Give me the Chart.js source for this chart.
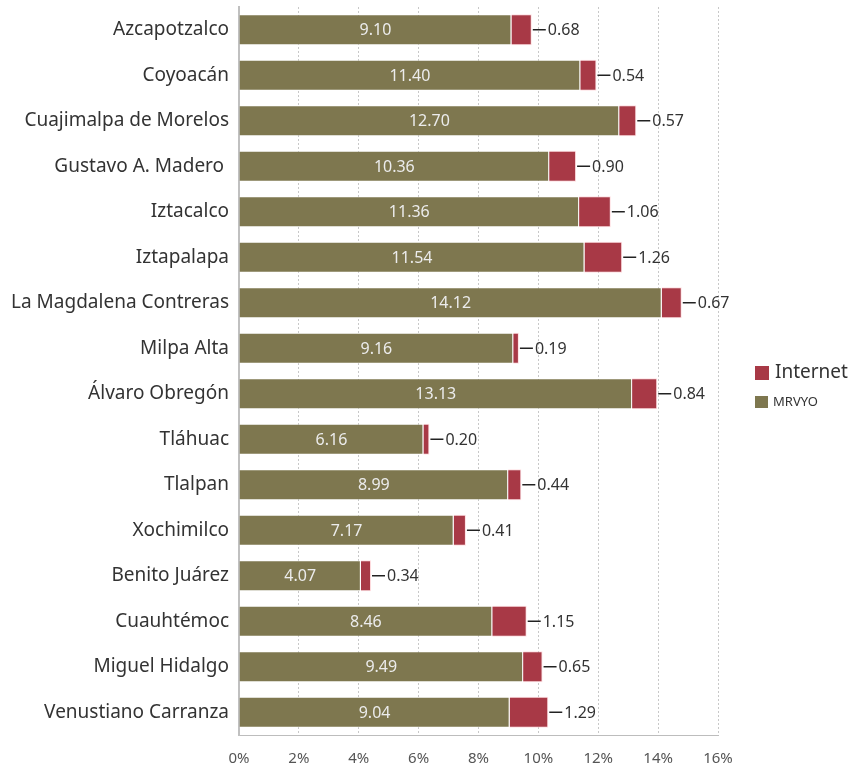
<!DOCTYPE html>
<html>
<head>
<meta charset="utf-8">
<script src="https://cdn.jsdelivr.net/npm/chart.js@4"></script>
<style>
html,body{margin:0;padding:0;background:#fff;}
#wrap{position:relative;width:859px;height:767px;}
</style>
</head>
<body>
<div id="wrap"><canvas id="c" width="859" height="767"></canvas></div>
<script>
const categories = ["Azcapotzalco","Coyoacán","Cuajimalpa de Morelos","Gustavo A. Madero ","Iztacalco","Iztapalapa","La Magdalena Contreras","Milpa Alta","Álvaro Obregón","Tláhuac","Tlalpan","Xochimilco","Benito Juárez","Cuauhtémoc","Miguel Hidalgo","Venustiano Carranza"];
const mrvyo = [9.10,11.40,12.70,10.36,11.36,11.54,14.12,9.16,13.13,6.16,8.99,7.17,4.07,8.46,9.49,9.04];
const internet = [0.68,0.54,0.57,0.90,1.06,1.26,0.67,0.19,0.84,0.20,0.44,0.41,0.34,1.15,0.65,1.29];
const xTicks = [0,2,4,6,8,10,12,14,16];

const FONT = "'Noto Sans', sans-serif";
const OLIVE = "rgb(126,119,79)";
const RED = "rgb(168,57,70)";

const labelPlugin = {
  id: 'valueLabels',
  afterDatasetsDraw(chart) {
    const ctx = chart.ctx;
    ctx.save();
    const m0 = chart.getDatasetMeta(0);
    const m1 = chart.getDatasetMeta(1);
    m0.data.forEach((bar, i) => {
      const cx = (bar.x + bar.base) / 2;
      ctx.font = "16px " + FONT;
      ctx.fillStyle = "#ececec";
      ctx.textAlign = "center";
      ctx.textBaseline = "middle";
      ctx.fillText(mrvyo[i].toFixed(2), cx, bar.y + 1);
    });
    m1.data.forEach((bar, i) => {
      const x = bar.x;
      ctx.strokeStyle = "#222";
      ctx.lineWidth = 1.5;
      ctx.beginPath();
      ctx.moveTo(x + 1, bar.y);
      ctx.lineTo(x + 14, bar.y);
      ctx.stroke();
      ctx.font = "16px " + FONT;
      ctx.fillStyle = "#333";
      ctx.textAlign = "left";
      ctx.textBaseline = "middle";
      ctx.fillText(internet[i].toFixed(2), x + 16, bar.y + 1);
    });
    ctx.restore();
  }
};

const legendPlugin = {
  id: 'customLegend',
  afterDraw(chart) {
    const ctx = chart.ctx;
    ctx.save();
    const ds = chart.data.datasets;
    ctx.fillStyle = ds[1].backgroundColor;
    ctx.fillRect(755, 366, 14, 14);
    ctx.font = "19px " + FONT;
    ctx.fillStyle = "#333";
    ctx.textAlign = "left";
    ctx.textBaseline = "middle";
    ctx.fillText(ds[1].label, 775, 373);
    ctx.fillStyle = ds[0].backgroundColor;
    ctx.fillRect(755, 396, 13, 12);
    ctx.font = "13px " + FONT;
    ctx.fillStyle = "#333";
    ctx.fillText(ds[0].label, 773, 402);
    ctx.restore();
  }
};

new Chart(document.getElementById('c'), {
  type: 'bar',
  data: {
    labels: categories,
    datasets: [
      { label: 'MRVYO', data: mrvyo, backgroundColor: OLIVE, borderColor: 'rgba(255,255,255,0.35)', borderWidth: 1, barPercentage: 0.68, categoryPercentage: 1 },
      { label: 'Internet', data: internet, backgroundColor: RED, borderColor: 'rgba(255,200,205,0.6)', borderWidth: 1, barPercentage: 0.68, categoryPercentage: 1 }
    ]
  },
  options: {
    indexAxis: 'y',
    responsive: false,
    animation: false,
    devicePixelRatio: 1,
    layout: { padding: { top: 7, right: 141, bottom: 0, left: 0 } },
    plugins: { legend: { display: false }, tooltip: { enabled: false } },
    scales: {
      x: {
        stacked: true,
        min: 0, max: 16,
        afterBuildTicks(axis) { axis.ticks = xTicks.map(v => ({ value: v })); },
        afterFit(axis) { axis.height = 32; axis.paddingLeft = 0; axis.paddingRight = 0; },
        ticks: {
          callback: v => v + '%',
          font: { family: FONT, size: 15 },
          color: '#555',
          padding: 15
        },
        grid: {
          color: ctx => ctx.tick && ctx.tick.value === 0 ? 'rgba(0,0,0,0)' : '#c8c8c8',
          lineWidth: 1,
          drawTicks: false
        },
        border: { display: true, color: '#bdbdbd', width: 1, dash: [2, 2] }
      },
      y: {
        stacked: true,
        afterFit(axis) { axis.width = 239; axis.paddingTop = 0; axis.paddingBottom = 0; },
        ticks: {
          font: { family: FONT, size: 19 },
          color: '#333',
          padding: 10
        },
        grid: { display: false, drawTicks: false },
        border: { display: true, color: '#c0c0c0', width: 2 }
      }
    }
  },
  plugins: [labelPlugin, legendPlugin]
});
</script>
</body>
</html>
